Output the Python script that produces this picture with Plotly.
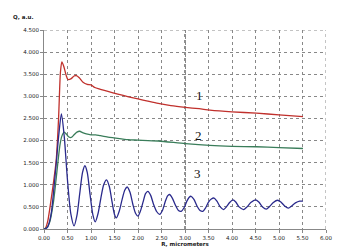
import plotly.graph_objects as go

# Curve 1 (red)
x1 = [0.00, 0.03, 0.08, 0.12, 0.19, 0.26, 0.31, 0.35, 0.38, 0.42, 0.47, 0.51, 0.58, 0.64, 0.69, 0.75, 0.83, 0.92, 1.00, 1.08,
      1.20, 1.36, 1.57, 1.80, 2.00, 2.21, 2.43, 2.70, 3.01, 3.30, 3.53, 4.00, 4.52, 5.00, 5.51]
y1 = [0.00, 0.02, 0.18, 0.44, 0.96, 1.56, 2.50, 3.55, 3.78, 3.68, 3.48, 3.38, 3.40, 3.46, 3.47, 3.42, 3.32, 3.27, 3.26, 3.20,
      3.16, 3.11, 3.05, 2.99, 2.94, 2.89, 2.84, 2.79, 2.75, 2.72, 2.69, 2.65, 2.62, 2.58, 2.54]

# Curve 2 (green)
x2 = [0.00, 0.05, 0.12, 0.20, 0.26, 0.30, 0.34, 0.38, 0.43, 0.48, 0.53, 0.58, 0.64, 0.70, 0.76, 0.82, 0.90, 1.00, 1.10,
      1.20, 1.36, 1.50, 1.79, 2.00, 2.43, 3.01, 3.53, 4.00, 4.52, 5.00, 5.51]
y2 = [0.00, 0.02, 0.15, 0.60, 1.15, 1.55, 1.90, 2.10, 2.19, 2.14, 2.08, 2.07, 2.13, 2.19, 2.21, 2.18, 2.15, 2.13, 2.13,
      2.11, 2.08, 2.06, 2.02, 2.01, 1.99, 1.93, 1.89, 1.87, 1.86, 1.84, 1.82]

# Curve 3 (blue)
x3 = [0.00, 0.04, 0.08, 0.12, 0.16, 0.20, 0.26, 0.31, 0.37, 0.43, 0.50, 0.57, 0.64, 0.70, 0.76, 0.82, 0.87, 0.92, 0.98, 1.04,
      1.09, 1.15, 1.21, 1.27, 1.33, 1.39, 1.45, 1.50, 1.54, 1.60, 1.66, 1.72, 1.77, 1.83, 1.89, 1.95, 2.00,
      2.05, 2.11, 2.16, 2.21, 2.27, 2.33, 2.40, 2.46, 2.52, 2.58, 2.63, 2.67, 2.73, 2.80, 2.86, 2.92,
      2.98, 3.04, 3.09, 3.13, 3.19, 3.26, 3.32, 3.38, 3.44, 3.50, 3.56, 3.62, 3.68, 3.75, 3.82,
      3.88, 3.95, 4.02, 4.08, 4.15, 4.25, 4.32, 4.40, 4.50, 4.57, 4.65, 4.73, 4.80, 4.88, 4.97, 5.04, 5.12, 5.20,
      5.27, 5.35, 5.44, 5.51]
y3 = [0.00, 0.01, 0.05, 0.18, 0.40, 0.80, 1.48, 2.08, 2.60, 2.10, 1.10, 0.35, 0.07, 0.30, 0.80, 1.28, 1.43, 1.28, 0.78, 0.32,
      0.16, 0.35, 0.70, 1.00, 1.11, 0.96, 0.60, 0.33, 0.25, 0.40, 0.66, 0.88, 0.95, 0.83, 0.56, 0.35, 0.29,
      0.40, 0.62, 0.80, 0.85, 0.76, 0.56, 0.39, 0.33, 0.42, 0.62, 0.75, 0.78, 0.70, 0.53, 0.42, 0.40,
      0.48, 0.63, 0.72, 0.74, 0.67, 0.51, 0.42, 0.40, 0.48, 0.61, 0.68, 0.70, 0.63, 0.50, 0.44,
      0.50, 0.60, 0.66, 0.61, 0.50, 0.44, 0.50, 0.60, 0.66, 0.61, 0.50, 0.45, 0.51, 0.60, 0.65, 0.61, 0.52, 0.47,
      0.52, 0.59, 0.63, 0.63]

x_ticks = [0.0, 0.5, 1.0, 1.5, 2.0, 2.5, 3.0, 3.5, 4.0, 4.5, 5.0, 5.5, 6.0]
y_ticks = [0.0, 0.5, 1.0, 1.5, 2.0, 2.5, 3.0, 3.5, 4.0, 4.5]
labels = ["1", "2", "3"]
label_x = [3.31, 3.28, 3.26]
label_y = [3.02, 2.12, 1.26]

fig = go.Figure()
for xs, ys, col in [(x1, y1, "#c0302c"), (x2, y2, "#3a7d5a"), (x3, y3, "#2a2a8c")]:
    fig.add_trace(go.Scatter(x=xs, y=ys, mode="lines", line=dict(color=col, width=1.3, shape="spline", smoothing=0.7),
                             showlegend=False, hoverinfo="skip"))

for t, lx, ly in zip(labels, label_x, label_y):
    fig.add_annotation(x=lx, y=ly, text=t, showarrow=False,
                       font=dict(family="Liberation Serif", size=13, color="#111"))

fig.add_shape(type="line", x0=3.0, x1=3.0, y0=0, y1=4.5, xref="x", yref="y",
              line=dict(color="#222", width=1, dash="dot"), layer="below")
fig.add_shape(type="line", x0=0, x1=6, y0=4.5, y1=4.5, xref="x", yref="y",
              line=dict(color="#888", width=1, dash="dot"), layer="below")
fig.add_shape(type="line", x0=6, x1=6, y0=0, y1=4.5, xref="x", yref="y",
              line=dict(color="#888", width=1, dash="dot"), layer="below")

fig.add_annotation(x=0, y=1, xref="paper", yref="paper", xanchor="left", yanchor="bottom",
                   text="<b>Q, a.u.</b>", showarrow=False, xshift=-33, yshift=8,
                   font=dict(family="DejaVu Sans", size=5.5, color="#222"))

tf = dict(family="DejaVu Sans", size=5.5, color="#222")
fig.update_xaxes(range=[0, 6], tickvals=x_ticks, ticktext=[f"{v:.2f}" for v in x_ticks],
                 showgrid=True, gridcolor="#888", griddash="dot", gridwidth=1,
                 showline=True, linecolor="#888", linewidth=1, zeroline=False,
                 ticks="outside", ticklen=3, tickcolor="#888", tickfont=tf,
                 title=dict(text="<b>R, micrometers</b>", font=tf, standoff=2))
fig.update_yaxes(range=[0, 4.5], tickvals=y_ticks, ticktext=[f"{v:.3f}" for v in y_ticks],
                 showgrid=True, gridcolor="#888", griddash="dot", gridwidth=1,
                 showline=True, linecolor="#888", linewidth=1, zeroline=False,
                 ticks="outside", ticklen=3, tickcolor="#888", tickfont=tf)

fig.update_layout(width=356, height=250, margin=dict(l=36, r=38, t=22, b=27),
                  plot_bgcolor="white", paper_bgcolor="white")
fig.write_html("out.html")
